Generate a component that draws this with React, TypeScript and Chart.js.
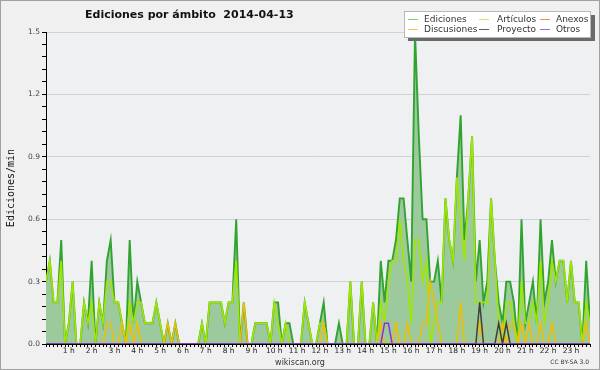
import React, { useEffect, useRef } from 'react';
import { Chart, registerables } from 'chart.js';

Chart.register(...registerables);

const TITLE = 'Ediciones por ámbito  2014-04-13';
const Y_TITLE = 'Ediciones/min';
const FOOTER = 'wikiscan.org';
const LICENSE = 'CC BY-SA 3.0';

// x tick labels, one every 6 slots (10-minute slots)
const HOURS = ['1 h', '2 h', '3 h', '4 h', '5 h', '6 h', '7 h', '8 h', '9 h', '10 h', '11 h', '12 h',
  '13 h', '14 h', '15 h', '16 h', '17 h', '18 h', '19 h', '20 h', '21 h', '22 h', '23 h'];
const Y_LABELS = ['0.0', '0.3', '0.6', '0.9', '1.2', '1.5'];

// values in edits/min, one per 10-minute slot (0:00 .. 23:50)
const ediciones = [
  0.3, 0.4, 0.2, 0.2, 0.5, 0, 0.1, 0.3, 0, 0, 0.2, 0.1,
  0.4, 0, 0.2, 0.1, 0.4, 0.5, 0.2, 0.2, 0.1, 0, 0.5, 0.1,
  0.3, 0.2, 0.1, 0.1, 0.1, 0.2, 0.1, 0, 0.1, 0, 0.1, 0,
  0, 0, 0, 0, 0, 0.1, 0, 0.2, 0.2, 0.2, 0.2, 0.1,
  0.2, 0.2, 0.6, 0, 0.2, 0, 0, 0.1, 0.1, 0.1, 0.1, 0,
  0.2, 0.2, 0, 0.1, 0.1, 0, 0, 0, 0.2, 0.1, 0, 0,
  0.1, 0.2, 0, 0, 0, 0.1, 0, 0, 0.3, 0, 0, 0.3,
  0, 0, 0.2, 0, 0.4, 0.2, 0.4, 0.4, 0.5, 0.7, 0.7, 0.5,
  0.3, 1.5, 1.0, 0.6, 0.6, 0.3, 0.3, 0.4, 0.2, 0.7, 0.5, 0.4,
  0.8, 1.1, 0.5, 0.7, 1.0, 0.3, 0.5, 0.2, 0.3, 0.7, 0.4, 0.2,
  0.1, 0.3, 0.3, 0.2, 0, 0.6, 0.1, 0.2, 0.3, 0.1, 0.6, 0.2,
  0.3, 0.5, 0.3, 0.4, 0.4, 0.2, 0.4, 0.2, 0.2, 0, 0.4, 0.1,
];
const articulos = [
  0.3, 0.4, 0.2, 0.2, 0.4, 0, 0.1, 0.3, 0, 0, 0.2, 0.1,
  0.2, 0, 0.2, 0.1, 0.3, 0.3, 0.2, 0.2, 0.1, 0, 0.2, 0.1,
  0.2, 0.2, 0.1, 0.1, 0.1, 0.2, 0.1, 0, 0, 0, 0, 0,
  0, 0, 0, 0, 0, 0.1, 0, 0.2, 0.2, 0.2, 0.2, 0.1,
  0.2, 0.2, 0.4, 0, 0, 0, 0, 0.1, 0.1, 0.1, 0.1, 0,
  0.2, 0.1, 0, 0.1, 0, 0, 0, 0, 0.2, 0.1, 0, 0,
  0.1, 0.1, 0, 0, 0, 0, 0, 0, 0.3, 0, 0, 0.3,
  0, 0, 0.2, 0, 0.2, 0.1, 0.3, 0.4, 0.4, 0.6, 0.4, 0.3,
  0.1, 0.5, 0.5, 0.3, 0.4, 0, 0.1, 0.2, 0.2, 0.7, 0.5, 0.4,
  0.8, 0.6, 0.4, 0.7, 1.0, 0.2, 0.2, 0.2, 0.2, 0.7, 0.4, 0.1,
  0, 0.2, 0.2, 0.1, 0, 0.3, 0.1, 0.1, 0.2, 0.1, 0.4, 0.1,
  0.2, 0.4, 0.3, 0.4, 0.4, 0.2, 0.4, 0.2, 0.2, 0, 0.2, 0.1,
];
const anexos = [
  0, 0, 0, 0, 0, 0, 0, 0, 0, 0, 0, 0,
  0, 0, 0, 0, 0, 0, 0, 0, 0, 0, 0, 0,
  0, 0, 0, 0, 0, 0, 0, 0, 0, 0, 0, 0,
  0, 0, 0, 0, 0, 0, 0, 0, 0, 0, 0, 0,
  0, 0, 0, 0, 0, 0, 0, 0, 0, 0, 0, 0,
  0, 0, 0, 0, 0, 0, 0, 0, 0, 0, 0, 0,
  0, 0, 0, 0, 0, 0, 0, 0, 0, 0, 0, 0,
  0, 0, 0, 0, 0, 0, 0, 0, 0, 0, 0, 0,
  0, 0, 0, 0, 0, 0, 0, 0, 0, 0, 0, 0,
  0, 0, 0, 0, 0, 0, 0, 0, 0, 0, 0, 0,
  0, 0, 0, 0, 0, 0, 0, 0, 0, 0, 0, 0,
  0, 0, 0, 0, 0, 0, 0, 0, 0, 0, 0, 0,
];
const discusiones = [
  0, 0, 0, 0, 0, 0, 0, 0, 0, 0, 0, 0,
  0, 0, 0, 0, 0.1, 0.1, 0, 0, 0.1, 0, 0.1, 0,
  0.1, 0, 0, 0, 0, 0, 0, 0, 0.1, 0, 0.1, 0,
  0, 0, 0, 0, 0, 0, 0, 0, 0, 0, 0, 0,
  0, 0, 0, 0, 0.2, 0, 0, 0, 0, 0, 0, 0,
  0, 0, 0, 0, 0, 0, 0, 0, 0, 0, 0, 0,
  0, 0.1, 0, 0, 0, 0, 0, 0, 0, 0, 0, 0,
  0, 0, 0, 0, 0.1, 0, 0, 0, 0.1, 0, 0, 0.1,
  0, 0, 0, 0.1, 0.1, 0.3, 0.2, 0.1, 0, 0, 0, 0,
  0, 0.2, 0, 0, 0, 0, 0.1, 0, 0, 0, 0, 0,
  0.1, 0, 0.1, 0.1, 0, 0.1, 0, 0.1, 0, 0, 0.1, 0,
  0, 0.1, 0, 0, 0, 0, 0, 0, 0, 0, 0.1, 0,
];
const proyecto = [
  0, 0, 0, 0, 0, 0, 0, 0, 0, 0, 0, 0,
  0, 0, 0, 0, 0, 0, 0, 0, 0, 0, 0, 0,
  0, 0, 0, 0, 0, 0, 0, 0, 0, 0, 0, 0,
  0, 0, 0, 0, 0, 0, 0, 0, 0, 0, 0, 0,
  0, 0, 0, 0, 0, 0, 0, 0, 0, 0, 0, 0,
  0, 0, 0, 0, 0, 0, 0, 0, 0, 0, 0, 0,
  0, 0, 0, 0, 0, 0, 0, 0, 0, 0, 0, 0,
  0, 0, 0, 0, 0, 0, 0, 0, 0, 0, 0, 0,
  0, 0, 0, 0, 0, 0, 0, 0, 0, 0, 0, 0,
  0, 0, 0, 0, 0, 0, 0.2, 0, 0, 0, 0, 0.1,
  0, 0.1, 0, 0, 0, 0, 0, 0, 0, 0, 0, 0,
  0, 0, 0, 0, 0, 0, 0, 0, 0, 0, 0, 0,
];
const otros = [
  0, 0, 0, 0, 0, 0, 0, 0, 0, 0, 0, 0,
  0, 0, 0, 0, 0, 0, 0, 0, 0, 0, 0, 0,
  0, 0, 0, 0, 0, 0, 0, 0, 0, 0, 0, 0,
  0, 0, 0, 0, 0, 0, 0, 0, 0, 0, 0, 0,
  0, 0, 0, 0, 0, 0, 0, 0, 0, 0, 0, 0,
  0, 0, 0, 0, 0, 0, 0, 0, 0, 0, 0, 0,
  0, 0, 0, 0, 0, 0, 0, 0, 0, 0, 0, 0,
  0, 0, 0, 0, 0, 0.1, 0.1, 0, 0, 0, 0, 0,
  0, 0, 0, 0, 0, 0, 0, 0, 0, 0, 0, 0,
  0, 0, 0, 0, 0, 0, 0, 0, 0, 0, 0, 0,
  0, 0, 0, 0, 0, 0, 0, 0, 0, 0, 0, 0,
  0, 0, 0, 0, 0, 0, 0, 0, 0, 0, 0, 0,
];

const SERIES = [
  { label: 'Ediciones', values: ediciones, color: '#31a331', legend: '#7fcf7f', width: 1.9 },
  { label: 'Artículos', values: articulos, color: '#a2e600', legend: '#c4ee5a', width: 1.6 },
  { label: 'Anexos', values: anexos, color: '#f07840', legend: '#f08a58', width: 1.5 },
  { label: 'Discusiones', values: discusiones, color: '#f0c000', legend: '#f2ca48', width: 1.5 },
  { label: 'Proyecto', values: proyecto, color: '#404040', legend: '#606060', width: 1.5 },
  { label: 'Otros', values: otros, color: '#8a30e0', legend: '#a064ee', width: 1.5 },
];

const FONT = '"DejaVu Sans", sans-serif';

const decor = {
  id: 'decor',
  beforeDraw(chart: any) {
    const { ctx, chartArea: a, width, height } = chart;
    ctx.save();
    ctx.fillStyle = '#f0f0f0';
    ctx.fillRect(0, 0, width, height);
    ctx.fillStyle = '#eef0f2';
    ctx.fillRect(a.left, a.top, a.right - a.left, a.bottom - a.top);
    ctx.restore();
  },
  afterDraw(chart: any) {
    const { ctx, width, height, chartArea: a } = chart;
    ctx.save();
    // title
    ctx.fillStyle = '#111';
    ctx.font = 'bold 11px ' + FONT;
    ctx.textAlign = 'left';
    ctx.textBaseline = 'alphabetic';
    ctx.fillText(TITLE, 85, 18);
    // y axis title
    ctx.save();
    ctx.translate(11, (a.top + a.bottom) / 2);
    ctx.rotate(-Math.PI / 2);
    ctx.font = '10px "DejaVu Sans Mono", monospace';
    ctx.textAlign = 'center';
    ctx.textBaseline = 'middle';
    ctx.fillStyle = '#111';
    ctx.fillText(Y_TITLE, 0, 0);
    ctx.restore();
    // legend box with shadow
    ctx.fillStyle = '#6a6a6a';
    ctx.fillRect(408, 15, 187, 26);
    ctx.fillStyle = '#ffffff';
    ctx.fillRect(404, 11, 187, 27);
    ctx.strokeStyle = '#b8b8b8';
    ctx.lineWidth = 1;
    ctx.strokeRect(404.5, 11.5, 186, 26);
    const colX = [408, 479, 540];
    const textX = [424, 497, 556];
    const rowY = [19.5, 29.5];
    ctx.font = '9px ' + FONT;
    ctx.textAlign = 'left';
    ctx.textBaseline = 'middle';
    chart.data.datasets.forEach((ds: any, k: number) => {
      const c = k % 3;
      const r = Math.floor(k / 3);
      ctx.strokeStyle = ds.legendColor;
      ctx.lineWidth = 1;
      ctx.beginPath();
      ctx.moveTo(colX[c], rowY[r]);
      ctx.lineTo(colX[c] + 10, rowY[r]);
      ctx.stroke();
      ctx.fillStyle = '#333';
      ctx.fillText(ds.label, textX[c], rowY[r]);
    });
    // footer
    ctx.fillStyle = '#333';
    ctx.font = '8px ' + FONT;
    ctx.textAlign = 'center';
    ctx.textBaseline = 'alphabetic';
    ctx.fillText(FOOTER, 300, 365);
    ctx.font = '6px ' + FONT;
    ctx.textAlign = 'right';
    ctx.fillText(LICENSE, 589, 364);
    // frame
    ctx.strokeStyle = '#a0a0a0';
    ctx.lineWidth = 1;
    ctx.strokeRect(0.5, 0.5, width - 1, height - 1);
    ctx.restore();
  },
};

export default function App() {
  const ref = useRef<HTMLCanvasElement>(null);
  useEffect(() => {
    const datasets = SERIES.map((s, k) => ({
      label: s.label,
      data: s.values.map((v, i) => ({ x: i, y: v })),
      borderColor: s.color,
      backgroundColor: k === 0 ? '#9dca9d' : s.color,
      legendColor: s.legend,
      fill: k === 0 ? 'origin' : false,
      borderWidth: s.width,
      pointRadius: 0,
      tension: 0,
      order: SERIES.length - k,
    }));
    const chart = new Chart(ref.current as HTMLCanvasElement, {
      type: 'line',
      data: { datasets } as any,
      plugins: [decor],
      options: {
        animation: false,
        responsive: false,
        devicePixelRatio: 1,
        events: [],
        layout: { padding: { top: 32, right: 10, left: 0, bottom: 0 } },
        plugins: { legend: { display: false }, title: { display: false }, tooltip: { enabled: false } },
        scales: {
          x: {
            type: 'linear',
            min: 0,
            max: ediciones.length - 1,
            z: 1,
            ticks: {
              stepSize: 1,
              autoSkip: false,
              maxRotation: 0,
              minRotation: 0,
              padding: 0,
              color: '#222',
              font: { family: FONT, size: 7.5 },
              callback: (v: any) => (v % 6 === 0 && v > 0 ? HOURS[v / 6 - 1] ?? '' : ''),
            },
            grid: { drawOnChartArea: false, drawTicks: true, tickLength: 3, tickColor: '#000', tickWidth: 1 },
            border: { color: '#000', width: 1 },
            afterFit: (s: any) => { s.height = 26; },
          },
          y: {
            min: 0,
            max: 1.5,
            ticks: {
              stepSize: 0.06,
              autoSkip: false,
              padding: 2,
              color: '#444',
              font: { family: FONT, size: 7.5 },
              callback: (v: any) => {
                const k = Math.round(v / 0.06);
                return k % 5 === 0 ? Y_LABELS[k / 5] : '';
              },
            },
            grid: {
              color: (c: any) => {
                const k = Math.round(c.tick.value / 0.06);
                return k % 5 === 0 && k > 0 ? '#d2d2d2' : 'rgba(0,0,0,0)';
              },
              tickColor: '#000',
              tickLength: 4,
              drawTicks: true,
            },
            border: { color: '#000', width: 1 },
            afterFit: (s: any) => { s.width = 46; },
          },
        },
      } as any,
    });
    return () => chart.destroy();
  }, []);
  return (
    <div style={{ position: 'absolute', left: 0, top: 0, width: 600, height: 370 }}>
      <canvas ref={ref} width={600} height={370} style={{ display: 'block' }} />
    </div>
  );
}
